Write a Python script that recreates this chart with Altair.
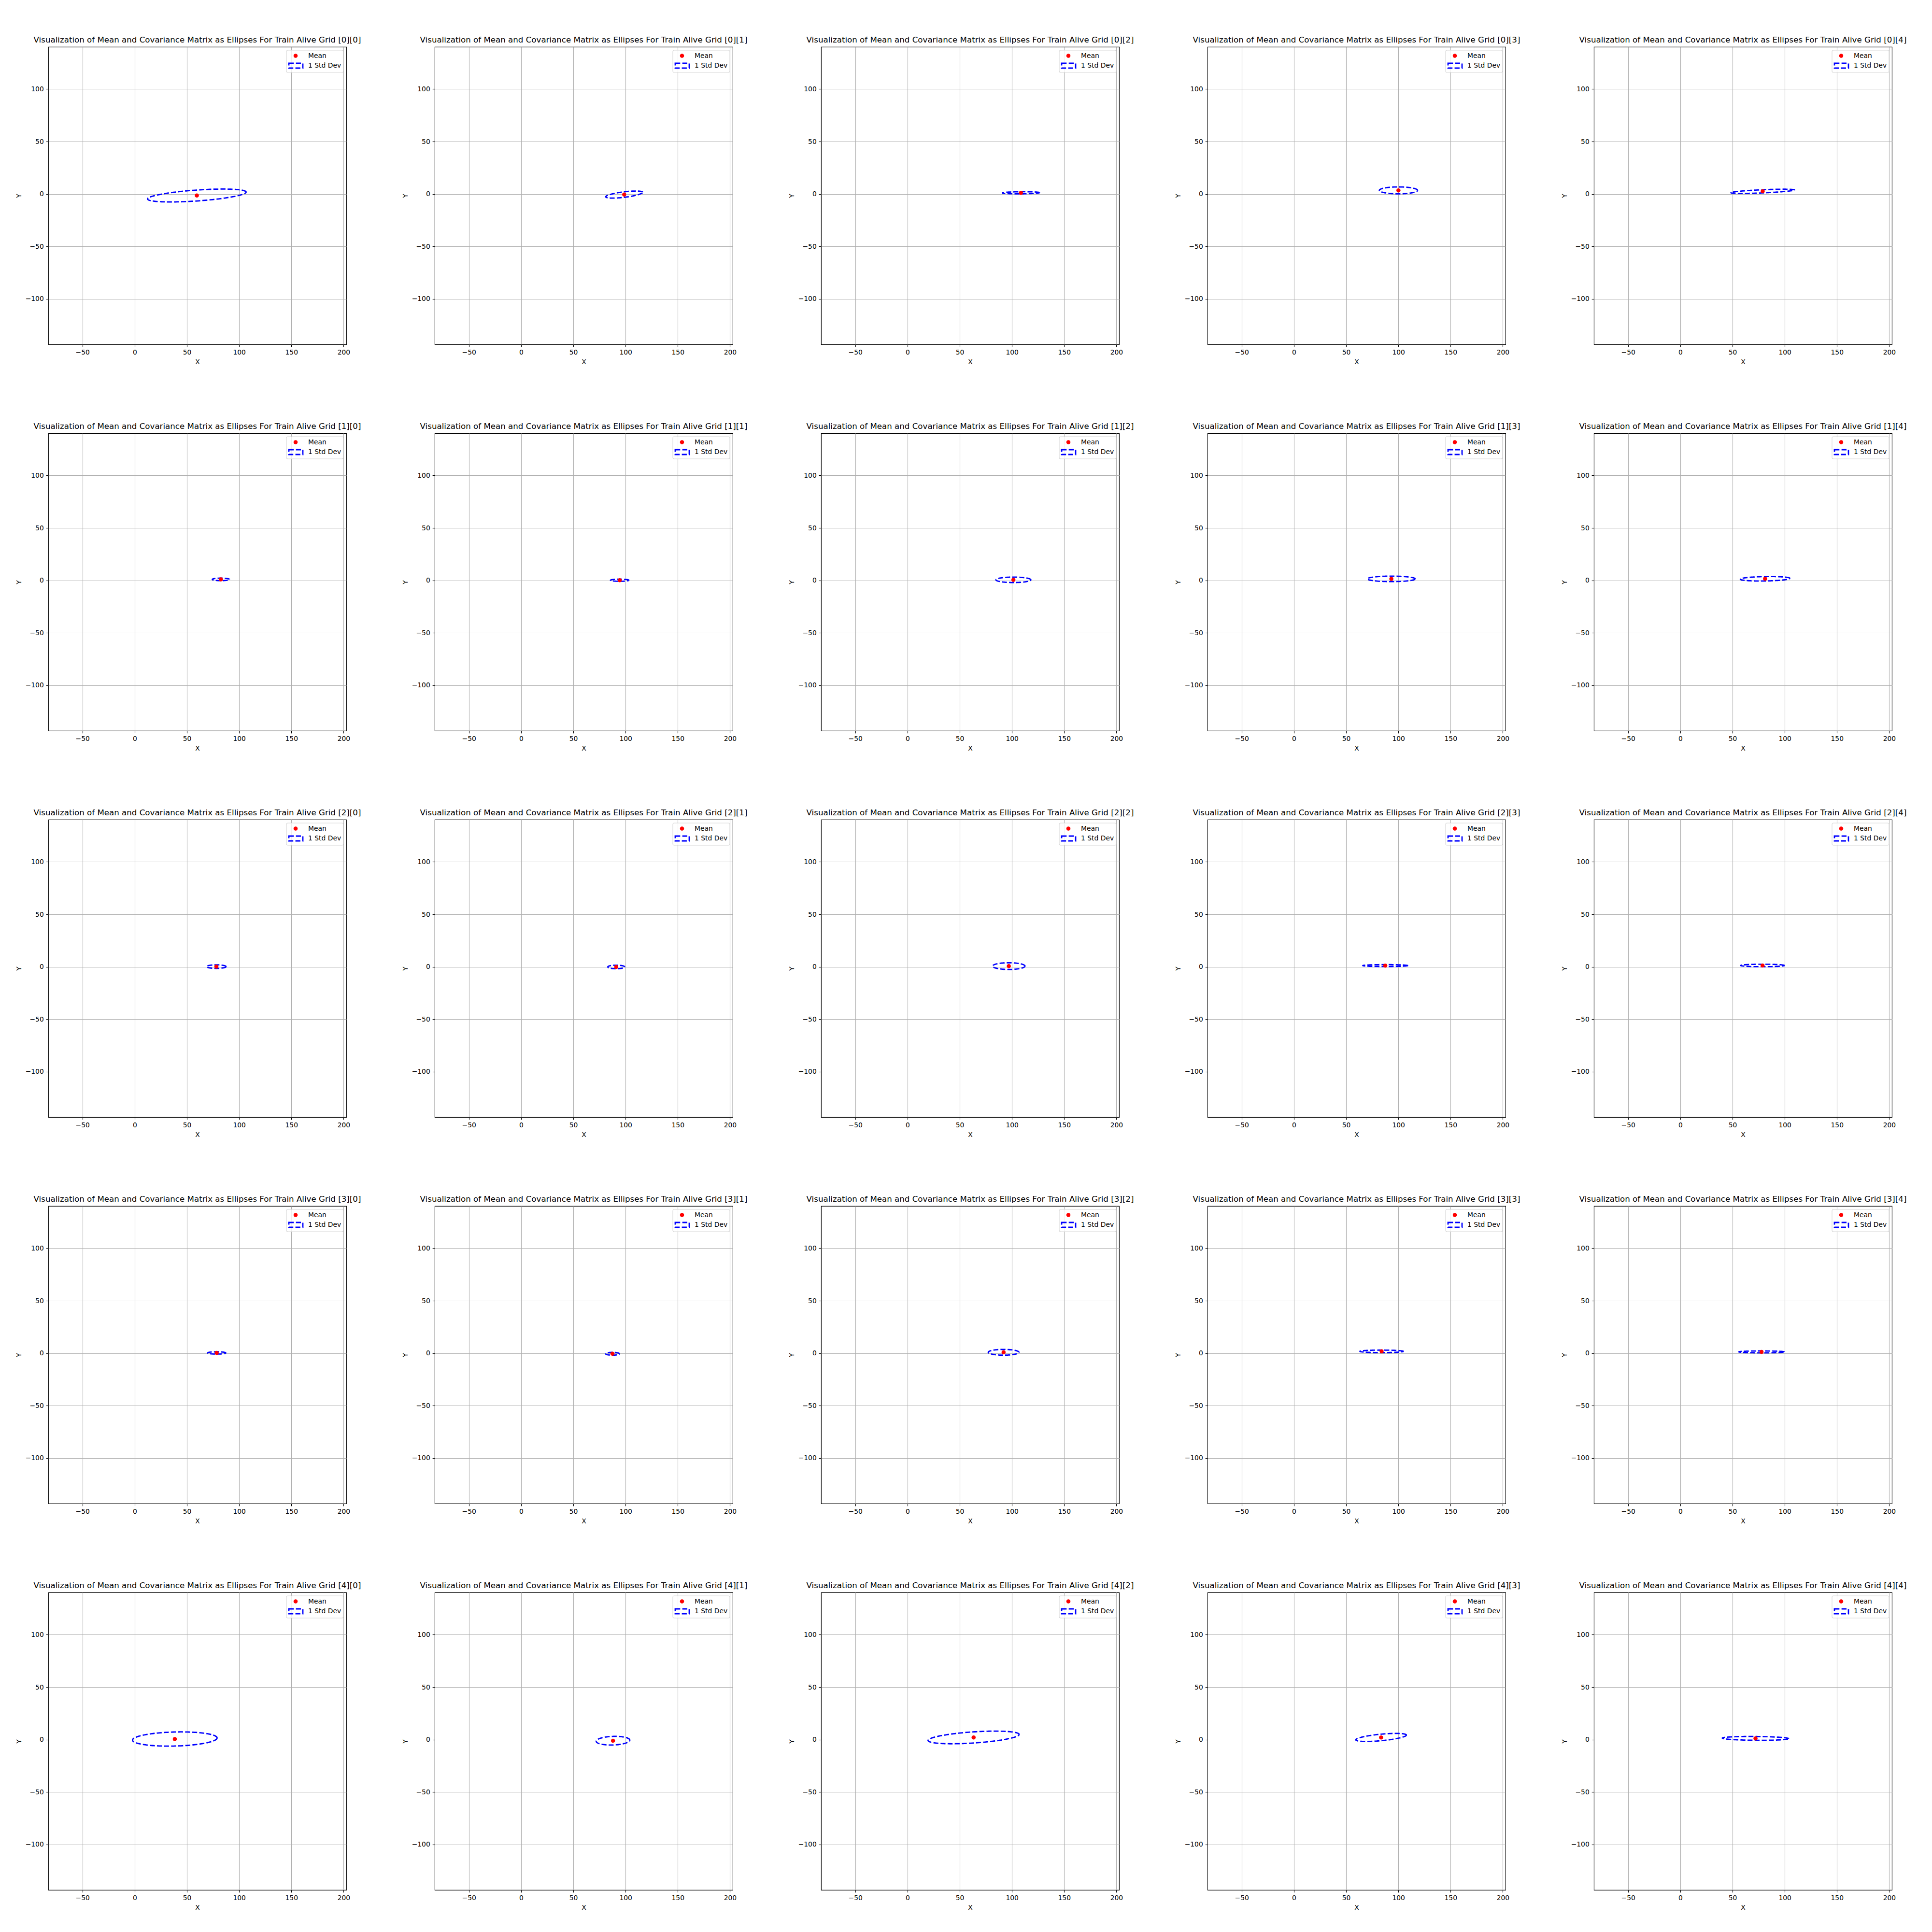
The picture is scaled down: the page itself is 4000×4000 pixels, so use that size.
import numpy as np
import pandas as pd
import altair as alt

# ---- data (row-major, grid [i][j]) ----
mean_x = [59.5, 98.7, 108.6, 100.1, 78.9,
          82.5, 94.4, 101.4, 93.3, 81.2,
          78.2, 91.1, 97.0, 87.5, 78.8,
          78.5, 87.5, 92.0, 84.0, 77.8,
          38.4, 88.0, 63.3, 83.5, 72.0]
mean_y = [-1.5, -0.6, 1.1, 3.4, 2.5,
          0.9, 0.1, 0.5, 1.4, 1.5,
          0.1, -0.2, 0.6, 1.1, 1.2,
          0.2, -0.6, 0.8, 1.7, 1.2,
          0.5, -1.1, 2.0, 2.0, 1.1]
semi_major = [47.3, 17.8, 17.8, 18.3, 30.5,
              8.2, 8.8, 16.7, 22.9, 23.7,
              9.3, 8.1, 15.5, 21.5, 20.9,
              8.7, 6.6, 14.7, 20.8, 21.7,
              40.5, 16.1, 43.7, 24.3, 31.8]
semi_minor = [5.2, 2.6, 1.0, 3.3, 1.5,
              1.2, 1.0, 2.6, 2.6, 2.1,
              1.7, 1.7, 3.2, 0.9, 1.2,
              1.1, 1.35, 2.75, 1.2, 0.9,
              6.7, 4.1, 5.3, 3.1, 1.8]
angle_deg = [4.0, 7.0, 0.5, 0.0, 2.5,
             0.0, 0.0, 0.0, 0.0, 1.0,
             0.0, 0.0, 0.0, 0.0, 0.0,
             0.0, 0.0, 0.0, 0.0, 0.0,
             1.5, 2.0, 3.8, 5.4, -0.5]
legend_labels = ["Mean", "1 Std Dev"]
x_ticks = [-50, 0, 50, 100, 150, 200]
y_ticks = [-100, -50, 0, 50, 100]
x_domain = [-82.7, 202.6]
y_domain = [-143.5, 140.3]
title_text = "Visualization of Mean and Covariance Matrix as Ellipses For Train Alive Grid [{}][{}]"

W, H = 617, 616
FONT = "DejaVu Sans"
t = np.linspace(0, 2 * np.pi, 181)
one = pd.DataFrame({"k": [0]})


def panel(k):
    i, j = divmod(k, 5)
    th = np.deg2rad(angle_deg[k])
    a, b = semi_major[k], semi_minor[k]
    ex = mean_x[k] + a * np.cos(t) * np.cos(th) - b * np.sin(t) * np.sin(th)
    ey = mean_y[k] + a * np.cos(t) * np.sin(th) + b * np.sin(t) * np.cos(th)
    ell = pd.DataFrame({"x": ex, "y": ey, "o": np.arange(len(t))})
    mean = pd.DataFrame({"x": [mean_x[k]], "y": [mean_y[k]]})

    xs = alt.X("x:Q", scale=alt.Scale(domain=x_domain, nice=False, zero=False),
               axis=alt.Axis(values=x_ticks, title="X"))
    ys = alt.Y("y:Q", scale=alt.Scale(domain=y_domain, nice=False, zero=False),
               axis=alt.Axis(values=y_ticks, title="Y"))

    ellipse = alt.Chart(ell).mark_line(
        color="#0000ff", strokeWidth=2.78, strokeDash=[10.3, 4.4], clip=True
    ).encode(x=xs, y=ys, order="o:Q")
    pt = alt.Chart(mean).mark_circle(color="#ff0000", size=72, opacity=1).encode(
        x="x:Q", y="y:Q")

    box = alt.Chart(one).mark_rect(
        fill="white", fillOpacity=0.8, stroke="#cccccc", strokeOpacity=0.8,
        strokeWidth=1.1, cornerRadius=3
    ).encode(x=alt.value(493), x2=alt.value(611), y=alt.value(7), y2=alt.value(53))
    ldot = alt.Chart(one).mark_circle(color="#ff0000", size=72, opacity=1).encode(
        x=alt.value(512), y=alt.value(18.5))
    lrect = alt.Chart(one).mark_rect(
        fill="white", fillOpacity=0, stroke="#0000ff", strokeWidth=2.78,
        strokeDash=[10.3, 4.4]
    ).encode(x=alt.value(498), x2=alt.value(527), y=alt.value(34), y2=alt.value(44))
    t1 = alt.Chart(one).mark_text(
        text=legend_labels[0], align="left", baseline="middle", font=FONT,
        fontSize=13.89, color="black"
    ).encode(x=alt.value(538), y=alt.value(18.5))
    t2 = alt.Chart(one).mark_text(
        text=legend_labels[1], align="left", baseline="middle", font=FONT,
        fontSize=13.89, color="black"
    ).encode(x=alt.value(538), y=alt.value(39))

    return alt.layer(ellipse, pt, box, ldot, lrect, t1, t2).properties(
        width=W, height=H,
        title=alt.TitleParams(text=title_text.format(i, j), font=FONT, fontSize=16.67,
                              fontWeight="normal", color="black", offset=5,
                              anchor="middle"))


charts = [panel(k) for k in range(25)]

chart = alt.concat(
    *charts, columns=5, spacing={"row": 184, "column": 183}, bounds="flush"
).configure_axis(
    labelFont=FONT, labelFontSize=13.89, labelColor="black",
    titleFont=FONT, titleFontSize=13.89, titleFontWeight="normal", titleColor="black",
    tickColor="black", tickSize=4.86, tickWidth=1.1, labelPadding=4.86,
    gridColor="#b0b0b0", gridWidth=1.1, gridOpacity=1, domain=False,
    titlePadding=5.6, labelFlush=False,
    labelExpr="replace(datum.label, '-', '\u2212')"
).configure_view(
    stroke="black", strokeWidth=1.1
).properties(
    padding={"left": 24, "top": 66, "right": 5, "bottom": 5},
    background="white"
)

chart.save("out.html", embed_options={"renderer": "svg", "actions": False})
